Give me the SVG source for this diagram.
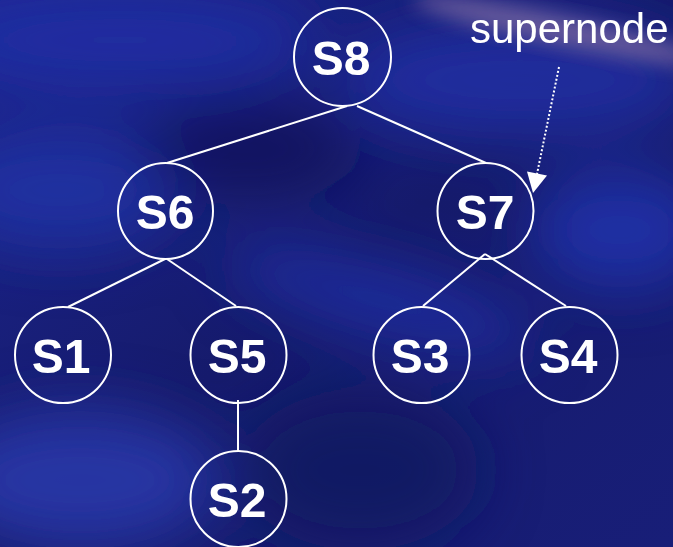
<svg xmlns="http://www.w3.org/2000/svg" width="673" height="547" viewBox="0 0 673 547">
<defs>
<style>
.node ellipse{fill:none;stroke:#fff;stroke-width:2}
.node text{fill:#fff;font-family:"Liberation Sans",Arial,sans-serif;font-weight:bold;font-size:48px;text-anchor:middle}
.edge{stroke:#fff;stroke-width:2;fill:none}
</style>
<linearGradient id="bg" x1="0" y1="0" x2="1" y2="1">
<stop offset="0" stop-color="#1c2590"/>
<stop offset="0.5" stop-color="#161b6c"/>
<stop offset="1" stop-color="#181e78"/>
</linearGradient>
<filter id="blur" x="-50%" y="-50%" width="200%" height="200%"><feGaussianBlur stdDeviation="30"/></filter>
<filter id="blur2" x="-50%" y="-50%" width="200%" height="200%"><feGaussianBlur stdDeviation="10"/></filter>
</defs>
<rect width="673" height="547" fill="url(#bg)"/>
<g filter="url(#blur)">
<ellipse cx="120" cy="40" rx="200" ry="50" fill="#2030a8" opacity="0.8"/>
<ellipse cx="60" cy="190" rx="120" ry="60" fill="#2232a8" opacity="0.8"/>
<ellipse cx="380" cy="300" rx="160" ry="35" fill="#2030a8" transform="rotate(15 380 300)" opacity="0.8"/>
<ellipse cx="620" cy="230" rx="90" ry="60" fill="#2234b0" opacity="0.8"/>
<ellipse cx="80" cy="480" rx="140" ry="70" fill="#2a36a8" opacity="0.9"/>
<ellipse cx="520" cy="80" rx="180" ry="60" fill="#2535b0" opacity="0.7"/>
<ellipse cx="250" cy="150" rx="110" ry="50" fill="#12145a" opacity="0.8"/>
<ellipse cx="360" cy="470" rx="120" ry="80" fill="#141760" opacity="0.8"/>
</g>
<ellipse cx="560" cy="30" rx="150" ry="15" fill="#70609e" filter="url(#blur2)" transform="rotate(12 560 30)" opacity="0.9"/>
<g id="connectors">
<line class="edge" x1="347" y1="106" x2="167" y2="163"/>
<line class="edge" x1="357" y1="106" x2="486" y2="163"/>
<line class="edge" x1="165" y1="259" x2="68" y2="307"/>
<line class="edge" x1="167" y1="259" x2="236" y2="306"/>
<line class="edge" x1="485" y1="254" x2="423" y2="306"/>
<line class="edge" x1="485" y1="254" x2="566" y2="306"/>
<line class="edge" x1="238" y1="400" x2="238" y2="451"/>
<line x1="559" y1="67" x2="537" y2="174" stroke="#fff" stroke-width="2" stroke-dasharray="2,2"/>
<polygon points="527,171.5 547,175.5 533,193" fill="#fff"/>
</g>
<g id="S8" class="node"><ellipse cx="342.5" cy="57" rx="48.5" ry="49"/><text x="341" y="75">S8</text></g>
<g id="S6" class="node"><ellipse cx="165.5" cy="211" rx="47.5" ry="48"/><text x="165" y="229">S6</text></g>
<g id="S7" class="node"><ellipse cx="485.5" cy="211" rx="48" ry="48"/><text x="485" y="229">S7</text></g>
<g id="S1" class="node"><ellipse cx="63" cy="355" rx="48" ry="48"/><text x="61" y="373">S1</text></g>
<g id="S5" class="node"><ellipse cx="238.5" cy="355" rx="48" ry="48"/><text x="237" y="373">S5</text></g>
<g id="S3" class="node"><ellipse cx="421.5" cy="355" rx="48" ry="48"/><text x="420" y="373">S3</text></g>
<g id="S4" class="node"><ellipse cx="569.5" cy="355" rx="48" ry="48"/><text x="568" y="373">S4</text></g>
<g id="S2" class="node"><ellipse cx="238.5" cy="499" rx="48" ry="48"/><text x="237" y="517">S2</text></g>
<text x="470" y="43" fill="#fff" font-family="'Liberation Sans',Arial,sans-serif" font-size="42">supernode</text>
</svg>
